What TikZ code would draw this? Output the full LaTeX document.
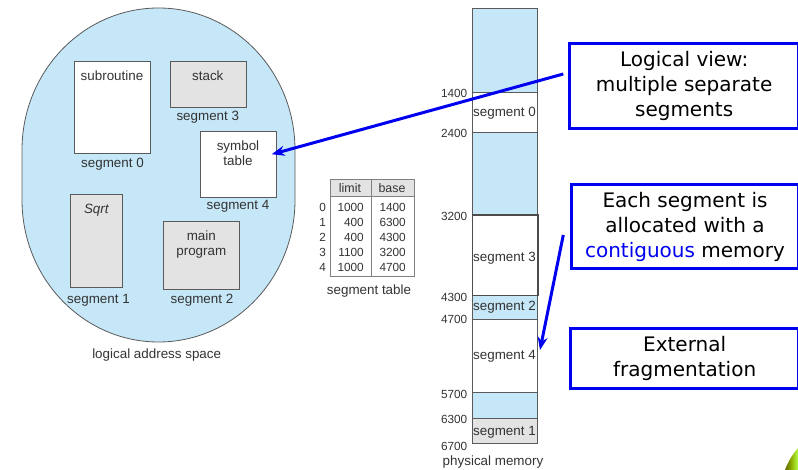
\documentclass[tikz,border=0pt]{standalone}
\usepackage{fontspec}
\setmainfont{Liberation Sans}
\newfontfamily\calloutfont{DejaVu Sans}
\usetikzlibrary{arrows.meta}

\definecolor{memblue}{HTML}{C5E7F7}
\definecolor{seggray}{HTML}{E3E3E3}
\definecolor{edgegray}{HTML}{5A5A5A}
\definecolor{txtgray}{HTML}{333333}
\definecolor{callblue}{HTML}{0000F0}

\begin{document}
\begin{tikzpicture}[x=1pt,y=1pt,
  segbox/.style={draw=edgegray, line width=0.8pt, inner sep=0pt, anchor=north west},
  lbl/.style={font=\fontsize{13.4}{15.2}\selectfont, text=txtgray, inner sep=0pt, align=center},
  num/.style={font=\fontsize{11.8}{13}\selectfont, text=txtgray, inner sep=0pt},
  memcell/.style={draw=edgegray, line width=0.7pt, inner sep=0pt, anchor=north west, minimum width=65.6pt},
  callout/.style={draw=callblue, line width=3pt, inner sep=0pt, anchor=north west,
                  font=\calloutfont\fontsize{20}{25}\selectfont, align=center},
  pointer/.style={draw=callblue, line width=3pt, -{Stealth[length=13pt,width=10pt]}}
]
\useasboundingbox (0,0) rectangle (798,-470);

% ---------- logical address space ----------
\draw[fill=memblue, draw=edgegray, line width=0.8pt]
  (22,-150) arc[start angle=180, end angle=0, x radius=136.5, y radius=142]
  -- (295,-200) arc[start angle=0, end angle=-180, x radius=136.5, y radius=142] -- cycle;

\node[segbox, fill=white,   minimum width=76.6pt, minimum height=92pt]   (sub)   at (73.7,-61)   {};
\node[segbox, fill=seggray, minimum width=75.7pt, minimum height=45.7pt] (stack) at (170,-61)    {};
\node[segbox, fill=white,   minimum width=76.6pt, minimum height=66.6pt] (sym)   at (199.7,-130.7) {};
\node[segbox, fill=seggray, minimum width=52pt,   minimum height=93pt]   (sqrt)  at (70.3,-194.3) {};
\node[segbox, fill=seggray, minimum width=76pt,   minimum height=67.4pt] (mainp) at (163.3,-221.3) {};

\node[lbl] (subT)   at (112,-76)      {subroutine};
\node[lbl] (stackT) at (207.8,-76)    {stack};
\node[lbl] (symT)   at (238,-153.5)   {symbol\\table};
\node[lbl, font=\fontsize{13.4}{15.2}\selectfont\itshape] (sqrtT) at (96.3,-210) {Sqrt};
\node[lbl] (mainT)  at (201.3,-244.5) {main\\program};

\node[lbl] (cap0) at (112.5,-164)   {segment 0};
\node[lbl] (cap3) at (207.8,-117)   {segment 3};
\node[lbl] (cap4) at (238,-206.7)   {segment 4};
\node[lbl] (cap1) at (98.5,-300.7)  {segment 1};
\node[lbl] (cap2) at (202,-300.7)   {segment 2};
\node[lbl] (lasT) at (156.7,-355)   {logical address space};

% ---------- segment table ----------
\fill[seggray] (330,-179) rectangle (414.3,-196);
\draw[draw=gray, line width=0.8pt] (330,-179) rectangle (414.3,-276);
\draw[draw=gray, line width=0.8pt] (330,-196) -- (414.3,-196);
\draw[draw=gray, line width=0.8pt] (371.7,-179) -- (371.7,-276);
\node[num, font=\fontsize{12.4}{14}\selectfont] (hLim)  at (350,-188.5) {limit};
\node[num, font=\fontsize{12.4}{14}\selectfont] (hBase) at (392,-188.5) {base};
\foreach \i/\l/\b/\y in {0/1000/1400/207.7, 1/400/6300/222.3, 2/400/4300/237.4,
                         3/1100/3200/252.3, 4/1000/4700/267.3} {
  \node[num] (r\i)  at (322.7,-\y) {\i};
  \node[num, anchor=east] (l\i) at (364,-\y) {\l};
  \node[num, anchor=east] (b\i) at (406,-\y) {\b};
}
\node[lbl] (tabT) at (369,-290.7) {segment table};

% ---------- physical memory ----------
\node[memcell, fill=memblue, minimum height=84pt]   (m0) at (471.7,-8.3)  {};
\node[memcell, fill=white,   minimum height=39.7pt] (m1) at (471.7,-92.3) {};
\node[memcell, fill=memblue, minimum height=82.3pt] (m2) at (471.7,-132)  {};
\node[memcell, fill=memblue, minimum height=24.3pt] (m4) at (471.7,-295)   {};
\node[memcell, fill=white,   minimum height=72.4pt] (m5) at (471.7,-319.3) {};
\node[memcell, fill=memblue, minimum height=26pt]   (m6) at (471.7,-391.7) {};
\node[memcell, fill=seggray, minimum height=25.6pt] (m7) at (471.7,-417.7) {};
% segment 3 is framed more heavily, drawn last so its frame stays on top
\node[memcell, fill=white, minimum height=80.7pt, draw=black!70, line width=1.3pt] (m3) at (471.7,-214.3) {};

\node[lbl] (ms0) at (504.5,-113.3) {segment 0};
\node[lbl] (ms3) at (504.5,-258.3) {segment 3};
\node[lbl] (ms2) at (504.5,-307.7) {segment 2};
\node[lbl] (ms4) at (504.5,-356)   {segment 4};
\node[lbl] (ms1) at (504.5,-432.3) {segment 1};

\foreach \n/\y in {1400/93.3, 2400/133.3, 3200/216.3, 4300/297.7, 4700/319.3,
                   5700/394, 6300/419, 6700/446.7} {
  \node[num, anchor=east] (a\n) at (467.5,-\y) {\n};
}
\node[lbl] (physT) at (493,-461.7) {physical memory};

% ---------- callouts ----------
\node[callout, minimum width=228.7pt, minimum height=84.4pt] (view) at (568.3,-42.3)
  {Logical view:\\multiple separate\\segments};
\node[callout, minimum width=227pt, minimum height=84.6pt] (alloc) at (570,-182.7)
  {Each segment is\\allocated with a\\{\color{callblue}contiguous} memory};
\node[callout, minimum width=227.7pt, minimum height=60.6pt] (frag) at (569.3,-326.7)
  {External\\fragmentation};

\coordinate (p1s) at (563.3,-74);
\coordinate (p1e) at (271.7,-154.3);
\coordinate (p2s) at (563.3,-235);
\coordinate (p2e) at (540,-350);
\draw[pointer] (p1s) -- (p1e);
\draw[pointer] (p2s) -- (p2e);

% ---------- corner ornament ----------
\shade[left color=olive!80!black, right color=yellow!60!green!70]
  (785,-470) .. controls (788,-462) and (792,-455) .. (798,-448) -- (798,-470) -- cycle;
\end{tikzpicture}
\end{document}
